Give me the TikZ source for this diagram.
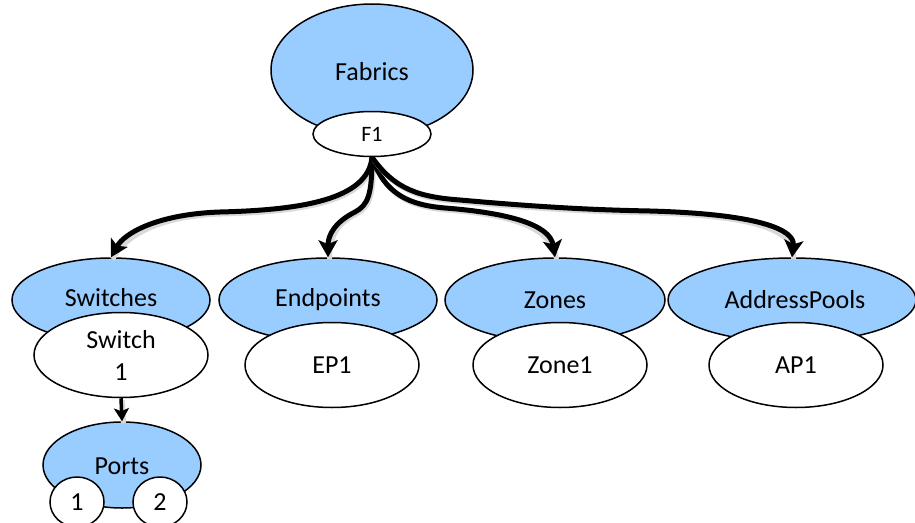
\documentclass[tikz,border=0pt]{standalone}
\usepackage{fontspec}
\setmainfont{Carlito}
\usetikzlibrary{shapes.geometric,arrows.meta}
\definecolor{pblue}{RGB}{153,204,255}
\tikzset{
  parent/.style={ellipse, draw=black, line width=1.5pt, fill=pblue, inner sep=0pt},
  child/.style={ellipse, draw=black, line width=1.5pt, fill=white, inner sep=0pt, align=center},
  lbl/.style={font=\fontsize{26}{30}\selectfont},
  conn/.style={line width=5pt, -{Stealth[length=17pt,width=19pt,inset=4pt]},
    preaction={draw=black!15, line width=5pt, -, transform canvas={shift={(1.5pt,-2pt)}}}},
}
\begin{document}
\begin{tikzpicture}[x=1pt,y=-1pt]
\useasboundingbox (0,0) rectangle (915,522);
% parents
\node[parent, minimum width=202pt, minimum height=132pt] (Fabrics) at (372,70) {};
\node[lbl] at (372,72) {Fabrics};
\node[child, minimum width=118pt, minimum height=45pt, font=\fontsize{22}{26}\selectfont] (F1) at (372,134) {F1};
\node[parent, minimum width=198pt, minimum height=84pt] (Switches) at (111,300) {};
\node[lbl] at (111,298) {Switches};
\node[parent, minimum width=218pt, minimum height=84pt] (Endpoints) at (328,300) {};
\node[lbl] at (328,300) {Endpoints};
\node[parent, minimum width=220pt, minimum height=84pt] (Zones) at (555,300) {};
\node[lbl] at (555,300) {Zones};
\node[parent, minimum width=248pt, minimum height=84pt] (AddressPools) at (792,300) {};
\node[lbl] at (795,300) {AddressPools};
% children
\node[child, minimum width=174pt, minimum height=85pt, font=\fontsize{26}{32}\selectfont] (Switch1) at (121,355) {Switch\\1};
\node[child, minimum width=174pt, minimum height=85pt, lbl] (EP1) at (332,365) {EP1};
\node[child, minimum width=174pt, minimum height=85pt, lbl] (Zone1) at (560,365) {Zone1};
\node[child, minimum width=174pt, minimum height=85pt, lbl] (AP1) at (796,365) {AP1};
% ports
\node[parent, minimum width=158pt, minimum height=86pt] (Ports) at (122,465) {};
\node[lbl] at (122,466) {Ports};
\node[child, minimum width=54pt, minimum height=50pt, lbl] (P1) at (77,502) {1};
\node[child, minimum width=54pt, minimum height=50pt, lbl] (P2) at (160,502) {2};
% connectors
\draw[conn] (F1.south) .. controls (368,200) and (300,210) .. (220,212) .. controls (160,214) and (125,232) .. (Switches.north);
\draw[conn] (F1.south) .. controls (372,195) and (368,205) .. (355,212) .. controls (335,222) and (328,235) .. (Endpoints.north);
\draw[conn] (F1.south) .. controls (385,195) and (410,205) .. (445,208) .. controls (510,213) and (550,225) .. (Zones.north);
\draw[conn] (F1.south) .. controls (395,190) and (420,197) .. (460,200) .. controls (550,208) and (600,210) .. (650,211) .. controls (760,214) and (795,230) .. (AddressPools.north);
\draw[conn, line width=3.5pt, -{Stealth[length=13pt,width=15pt,inset=3pt]}] (Switch1.south) -- (Ports.north);
\end{tikzpicture}
\end{document}
